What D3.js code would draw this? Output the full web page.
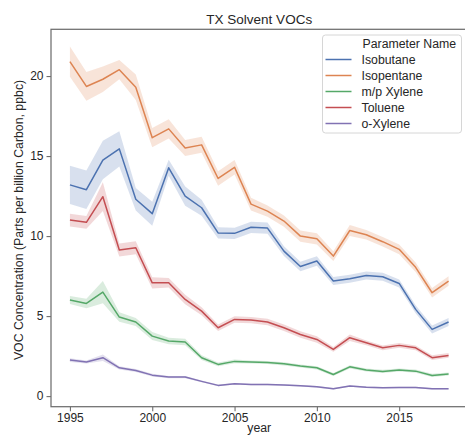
<!DOCTYPE html>
<html>
<head>
<meta charset="utf-8">
<script src="https://cdn.jsdelivr.net/npm/d3@7"></script>
<style>
  html, body { margin: 0; padding: 0; background: #fff; }
  svg { display: block; font-family: "Liberation Sans", Arial, sans-serif; }
</style>
</head>
<body>
<svg id="chart" width="465" height="437"></svg>
<script>
// Annual mean concentrations (ppbC) for solvent VOCs in Texas, 1995–2018
const years = d3.range(1995, 2019);
const seriesNames = ["Isobutane", "Isopentane", "m/p Xylene", "Toluene", "o-Xylene"];
const seriesColors = ["#4c72b0", "#dd8452", "#55a868", "#c44e52", "#8172b3"];

const isobutane = [13.2, 12.9, 14.75, 15.45, 12.3, 11.4, 14.27, 12.5, 11.77, 10.2, 10.17, 10.55, 10.5, 9.06, 8.1, 8.44, 7.19, 7.33, 7.54, 7.46, 7.04, 5.42, 4.17, 4.63];
const isopentane = [20.9, 19.35, 19.8, 20.4, 19.3, 16.15, 16.7, 15.5, 15.7, 13.6, 14.3, 12.0, 11.56, 10.94, 10.0, 9.83, 8.75, 10.35, 10.08, 9.65, 9.17, 8.05, 6.46, 7.19];
const mpXylene = [6.0, 5.79, 6.5, 4.94, 4.63, 3.75, 3.44, 3.38, 2.4, 1.98, 2.17, 2.13, 2.1, 2.02, 1.88, 1.77, 1.35, 1.83, 1.63, 1.54, 1.63, 1.56, 1.29, 1.38];
const toluene = [11.0, 10.86, 12.46, 9.13, 9.27, 7.08, 7.08, 6.04, 5.31, 4.27, 4.79, 4.75, 4.63, 4.27, 3.85, 3.54, 2.92, 3.65, 3.33, 3.02, 3.17, 3.02, 2.4, 2.54];
const oXylene = [2.25, 2.13, 2.4, 1.77, 1.6, 1.31, 1.19, 1.19, 0.92, 0.67, 0.77, 0.73, 0.73, 0.69, 0.65, 0.58, 0.46, 0.63, 0.56, 0.52, 0.54, 0.54, 0.46, 0.46];

// Half-width of the 95% confidence interval around each annual mean
const isobutaneCI = [1.2, 1.2, 1.2, 1.1, 0.7, 0.75, 0.5, 0.6, 0.5, 0.35, 0.35, 0.35, 0.35, 0.3, 0.3, 0.3, 0.25, 0.25, 0.25, 0.25, 0.25, 0.25, 0.25, 0.25];
const isopentaneCI = [0.95, 0.9, 0.8, 0.6, 0.8, 0.6, 0.6, 0.5, 0.5, 0.45, 0.45, 0.4, 0.35, 0.35, 0.35, 0.35, 0.3, 0.35, 0.3, 0.3, 0.3, 0.3, 0.3, 0.3];
const mpXyleneCI = [0.25, 0.3, 0.7, 0.3, 0.25, 0.25, 0.2, 0.2, 0.15, 0.12, 0.12, 0.1, 0.1, 0.1, 0.1, 0.1, 0.1, 0.1, 0.1, 0.1, 0.1, 0.1, 0.1, 0.1];
const tolueneCI = [0.4, 0.4, 0.9, 0.4, 0.4, 0.35, 0.3, 0.3, 0.25, 0.2, 0.2, 0.2, 0.2, 0.2, 0.2, 0.2, 0.15, 0.2, 0.15, 0.15, 0.15, 0.15, 0.15, 0.15];
const oXyleneCI = [0.12, 0.1, 0.2, 0.1, 0.1, 0.08, 0.07, 0.07, 0.06, 0.05, 0.05, 0.05, 0.05, 0.05, 0.05, 0.05, 0.05, 0.05, 0.05, 0.05, 0.05, 0.05, 0.05, 0.05];

const xTicks = [1995, 2000, 2005, 2010, 2015];
const yTicks = [0, 5, 10, 15, 20];

const seriesValues = [isobutane, isopentane, mpXylene, toluene, oXylene];
const seriesCI = [isobutaneCI, isopentaneCI, mpXyleneCI, tolueneCI, oXyleneCI];

const series = seriesNames.map((name, i) => ({
  name,
  color: seriesColors[i],
  points: years.map((yr, j) => ({ year: yr, v: seriesValues[i][j], lo: seriesValues[i][j] - seriesCI[i][j], hi: seriesValues[i][j] + seriesCI[i][j] }))
}));

const svg = d3.select("#chart");
const margin = { left: 51, top: 29.3, right: -2.5, bottom: 30.3 };
const W = 465, H = 437;
const innerW = W - margin.left - margin.right;
const innerH = H - margin.top - margin.bottom;

// Axis limits padded 5% around the data, like matplotlib's auto-limits
const allLo = d3.min(series, s => d3.min(s.points, p => p.lo));
const allHi = d3.max(series, s => d3.max(s.points, p => p.hi));
const yPad = (allHi - allLo) * 0.05;
const xPad = (2018 - 1995) * 0.05;

const x = d3.scaleLinear().domain([1995 - xPad, 2018 + xPad]).range([0, innerW]);
const y = d3.scaleLinear().domain([allLo - yPad, allHi + yPad]).range([innerH, 0]);

const g = svg.append("g").attr("transform", `translate(${margin.left},${margin.top})`);

const textColor = "#262626";
const spineColor = "#6e6e6e";

// Confidence bands
const area = d3.area().x(d => x(d.year)).y0(d => y(d.lo)).y1(d => y(d.hi));
const line = d3.line().x(d => x(d.year)).y(d => y(d.v));

g.selectAll("path.band").data(series).join("path")
  .attr("class", "band")
  .attr("d", s => area(s.points))
  .attr("fill", s => s.color)
  .attr("fill-opacity", 0.22)
  .attr("stroke", "none");

g.selectAll("path.line").data(series).join("path")
  .attr("class", "line")
  .attr("d", s => line(s.points))
  .attr("fill", "none")
  .attr("stroke", s => s.color)
  .attr("stroke-width", 1.5)
  .attr("stroke-linejoin", "round");

// Axes
const xAxis = d3.axisBottom(x).tickValues(xTicks).tickFormat(d3.format("d")).tickSize(4.5).tickPadding(2);
const yAxis = d3.axisLeft(y).tickValues(yTicks).tickSize(4.5).tickPadding(3);

const gx = g.append("g").attr("transform", `translate(0,${innerH})`).call(xAxis);
const gy = g.append("g").call(yAxis);
[gx, gy].forEach(a => {
  a.select(".domain").remove();
  a.selectAll(".tick line").attr("stroke", spineColor).attr("stroke-width", 1.1);
  a.selectAll(".tick text").attr("fill", textColor).style("font-size", "12px").style("font-family", "'Liberation Sans', Arial, sans-serif");
});

// Frame (all four spines)
g.append("rect")
  .attr("x", 0).attr("y", 0).attr("width", innerW).attr("height", innerH)
  .attr("fill", "none").attr("stroke", spineColor).attr("stroke-width", 1.25);

// Title and axis labels
svg.append("text")
  .attr("x", margin.left + innerW / 2).attr("y", 24)
  .attr("text-anchor", "middle").attr("fill", textColor)
  .style("font-size", "13.5px")
  .text("TX Solvent VOCs");

svg.append("text")
  .attr("x", margin.left + innerW / 2).attr("y", 432)
  .attr("text-anchor", "middle").attr("fill", textColor)
  .style("font-size", "12.3px")
  .text("year");

svg.append("text")
  .attr("transform", `translate(23,${margin.top + innerH / 2 + 2}) rotate(-90)`)
  .attr("text-anchor", "middle").attr("fill", textColor)
  .style("font-size", "12.3px")
  .text("VOC Concentration (Parts per billion Carbon, ppbc)");

// Legend
const lg = svg.append("g").attr("transform", "translate(322.5,35)");
lg.append("rect")
  .attr("width", 139).attr("height", 98).attr("rx", 3)
  .attr("fill", "#fff").attr("fill-opacity", 0.85)
  .attr("stroke", "#d6d6d6").attr("stroke-width", 1);
lg.append("text")
  .attr("x", 40).attr("y", 12.5).attr("fill", textColor)
  .style("font-size", "12.3px")
  .text("Parameter Name");
const items = lg.selectAll("g.item").data(series).join("g")
  .attr("class", "item")
  .attr("transform", (d, i) => `translate(0,${28.5 + i * 16})`);
items.append("line")
  .attr("x1", 3).attr("x2", 29).attr("y1", -4).attr("y2", -4)
  .attr("stroke", d => d.color).attr("stroke-width", 1.5);
items.append("text")
  .attr("x", 39).attr("y", 0).attr("fill", textColor)
  .style("font-size", "12.3px")
  .text(d => d.name);
</script>
</body>
</html>
